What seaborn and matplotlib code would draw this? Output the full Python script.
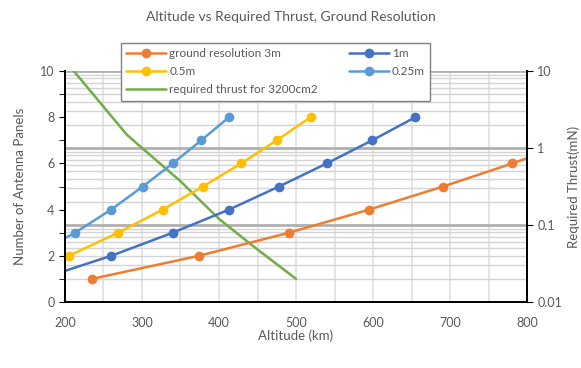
import matplotlib
matplotlib.use('Agg')
import matplotlib.pyplot as plt
import matplotlib.ticker as mticker
import seaborn as sns
import pandas as pd

# ---- data ----
alt_3m = [235, 374, 491, 595, 691, 781, 866]
panels_3m = [1, 2, 3, 4, 5, 6, 7]
alt_1m = [168, 260, 340, 413, 478, 540, 599, 655]
panels_1m = [1, 2, 3, 4, 5, 6, 7, 8]
alt_05m = [133, 205, 269, 327, 379, 429, 475, 519]
panels_05m = [1, 2, 3, 4, 5, 6, 7, 8]
alt_025m = [158, 213, 260, 301, 340, 377, 413]
panels_025m = [2, 3, 4, 5, 6, 7, 8]
thrust_alt = [200, 280, 300, 350, 400, 450, 500]
thrust_mN = [13.7, 1.5, 1.0, 0.37, 0.12, 0.048, 0.02]

series = [
    ("ground resolution 3m", alt_3m, panels_3m, "#ED7D31"),
    ("1m", alt_1m, panels_1m, "#4472C4"),
    ("0.5m", alt_05m, panels_05m, "#FFC000"),
    ("0.25m", alt_025m, panels_025m, "#5B9BD5"),
]

sns.set_style("white")
plt.rcParams['font.family'] = ['Lato', 'DejaVu Sans']
txt = '#595959'

fig = plt.figure(figsize=(5.81, 3.68), dpi=100)
# ax holds the log thrust scale (drawn first so its grid sits underneath)
ax = fig.add_axes([65/581, 1 - 302/368, 462/581, 231/368])
ax2 = ax.twinx()

df_t = pd.DataFrame({"alt": thrust_alt, "thrust": thrust_mN})
sns.lineplot(data=df_t, x="alt", y="thrust", ax=ax, color="#70AD47",
             linewidth=1.8, label="required thrust for 3200cm2", legend=False)
ax.set_yscale('log')
ax.set_ylim(0.01, 10)
ax.set_xlim(200, 800)
ax.yaxis.tick_right()
ax.yaxis.set_label_position('right')
ax.set_ylabel("Required Thrust(mN)", color=txt, fontsize=9.5, labelpad=4)
ax.set_xlabel("Altitude (km)", color=txt, fontsize=9.5, labelpad=0)
ax.yaxis.set_major_formatter(mticker.FuncFormatter(lambda v, p: f"{v:g}"))
ax.yaxis.set_minor_locator(mticker.LogLocator(base=10, subs=range(2, 10)))
ax.yaxis.set_minor_formatter(mticker.NullFormatter())
ax.xaxis.set_major_locator(mticker.MultipleLocator(100))
ax.xaxis.set_minor_locator(mticker.MultipleLocator(50))
ax.grid(which='major', axis='y', color='#b0b0b0', linewidth=2.0)
ax.grid(which='minor', axis='y', color='#d4d4d4', linewidth=1.0)
ax.grid(which='both', axis='x', color='#e3e3e3', linewidth=1.3)
ax.set_axisbelow(True)
ax.tick_params(axis='y', which='major', direction='out', length=4, color='black',
               labelcolor=txt, labelsize=9, right=True, left=False)
ax.tick_params(axis='y', which='minor', length=0)
ax.tick_params(axis='x', which='both', length=0, labelcolor=txt, labelsize=9, pad=11)

for name, xs, ys, col in series:
    d = pd.DataFrame({"alt": xs, "panels": ys})
    sns.lineplot(data=d, x="alt", y="panels", ax=ax2, color=col, linewidth=1.8,
                 marker='o', markersize=7, markeredgewidth=0, label=name, legend=False)
ax2.set_ylim(0, 10)
ax2.set_xlim(200, 800)
ax2.yaxis.tick_left()
ax2.yaxis.set_label_position('left')
ax2.set_ylabel("Number of Antenna Panels", color=txt, fontsize=9.5, labelpad=10)
ax2.set_xlabel("")
ax2.yaxis.set_major_locator(mticker.MultipleLocator(2))
ax2.yaxis.set_minor_locator(mticker.MultipleLocator(1))
ax2.tick_params(axis='y', which='both', direction='out', color='black', left=True, right=False)
ax2.tick_params(axis='y', which='major', length=4, labelcolor=txt, labelsize=9)
ax2.tick_params(axis='y', which='minor', length=4)
ax2.grid(False)

for a in (ax, ax2):
    a.spines['top'].set_visible(False)
    for s in ('left', 'right', 'bottom'):
        a.spines[s].set_color('black')
        a.spines[s].set_linewidth(1.3)

fig.suptitle("Altitude vs Required Thrust, Ground Resolution", x=0.5, y=0.97,
             color=txt, fontsize=10)

h2, l2 = ax2.get_legend_handles_labels()
h1, l1 = ax.get_legend_handles_labels()
order_h = [h2[0], h2[2], h1[0], h2[1], h2[3]]
order_l = [l2[0], l2[2], l1[0], l2[1], l2[3]]
leg = fig.legend(order_h, order_l, ncol=2, loc='upper left',
                 bbox_to_anchor=(121/581, 1 - 43/368), fontsize=8.5,
                 frameon=True, fancybox=False, framealpha=1, edgecolor='#808080',
                 handlelength=3.4, handletextpad=0.25, columnspacing=2.6,
                 labelspacing=0.6, borderpad=0.45, borderaxespad=0, labelcolor=txt)
leg.get_frame().set_linewidth(1.0)
leg.set_zorder(10)

fig.savefig("out.png", dpi=100)
